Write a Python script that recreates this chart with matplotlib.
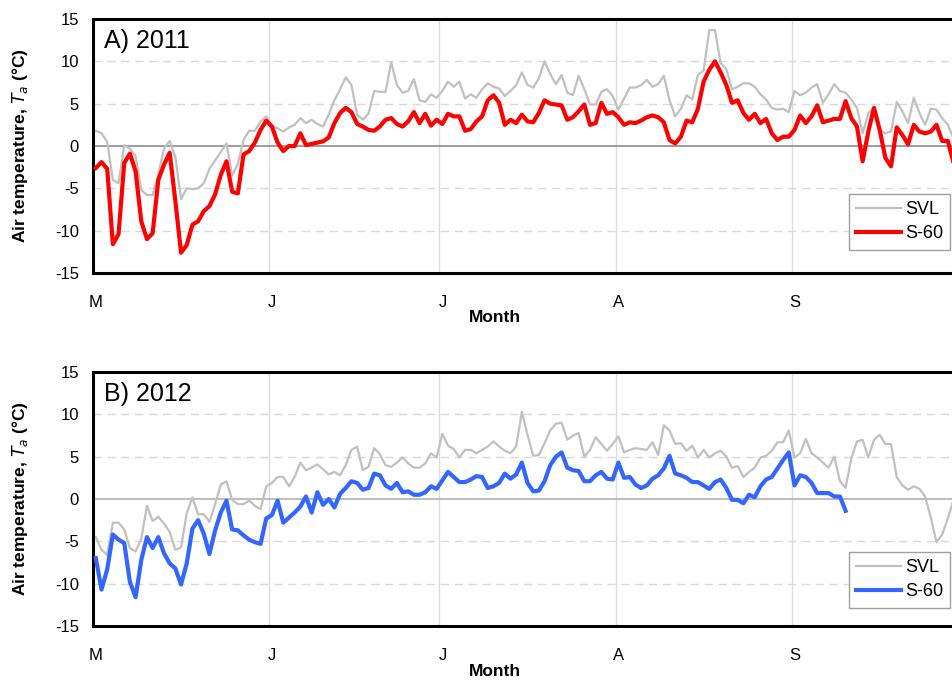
import numpy as np
import matplotlib
matplotlib.use('Agg')
import matplotlib.pyplot as plt
import matplotlib.transforms as mtrans

plt.rcParams['font.family'] = ['Liberation Sans', 'DejaVu Sans']
plt.rcParams['axes.unicode_minus'] = False

# daily mean air temperature (deg C), first value = 1 May
svl_2011 = [1.8, 1.5, 0.5, -4.0, -4.4, 0.1, -0.3, -1.2, -5.2, -5.8,
            -5.8, -3.3, -0.3, 0.6, -1.3, -6.3, -5.0, -5.1, -5.0, -4.4,
            -2.7, -1.7, -0.7, 0.3, -3.5, -2.1, 0.7, 1.8, 1.8, 2.9,
            3.5, 2.4, 2.1, 1.7, 2.2, 2.5, 3.3,
            2.7, 3.1, 2.6, 2.3, 3.7, 5.4, 6.7, 8.1, 7.2, 3.7,
            3.1, 3.8, 6.5, 6.4, 6.4, 9.9, 7.2, 6.3, 6.5, 7.9,
            5.4, 5.2, 6.1, 5.7, 6.5, 7.6, 7.0, 7.6, 5.6, 6.1,
            5.7, 6.7, 7.4, 7.0, 6.8, 5.9, 6.5, 7.2, 8.7,
            7.2, 6.9, 8.0, 10.0, 8.5, 7.3, 8.4, 6.3, 6.0, 8.3,
            6.7, 4.9, 4.9, 6.4, 6.7, 5.9, 4.3, 5.6, 6.9, 6.9,
            7.2, 7.8, 7.0, 7.3, 8.3, 5.4, 3.5, 4.4, 6.0, 5.5,
            8.4, 8.9, 13.7, 13.7, 9.8, 9.1, 6.7, 7.0,
            7.4, 7.4, 7.0, 6.1, 5.5, 4.5, 4.3, 4.4, 4.0, 6.5,
            6.0, 6.3, 6.9, 7.3, 5.1, 6.1, 7.3, 6.5, 6.3, 5.5,
            4.5, 1.5, 3.9, 4.5, 1.9, 1.5, 1.7, 5.2, 4.1, 2.7,
            5.7, 3.9, 2.5, 4.4, 4.3, 3.3, 2.5, 0.9]
s60_2011 = [-2.6, -1.9, -2.7, -11.6, -10.4, -2.0, -0.9, -3.0, -8.9, -11.0,
            -10.3, -4.0, -2.2, -0.8, -6.5, -12.6, -11.7, -9.3, -8.9, -7.7,
            -7.1, -5.7, -3.4, -1.8, -5.4, -5.6, -1.0, -0.6, 0.4, 1.9,
            3.0, 2.3, 0.4, -0.6, 0.0, 0.0, 1.5,
            0.1, 0.25, 0.4, 0.55, 1.0, 2.7, 3.9, 4.5, 4.0, 2.6,
            2.3, 1.9, 1.8, 2.3, 3.1, 3.3, 2.6, 2.3, 2.9, 4.0,
            2.7, 3.8, 2.4, 3.1, 2.6, 3.8, 3.5, 3.5, 1.8, 2.0,
            2.9, 3.5, 5.4, 6.0, 5.1, 2.5, 3.1, 2.7,
            3.7, 2.9, 2.8, 3.9, 5.4, 5.0, 4.9, 4.8, 3.1, 3.4,
            4.1, 4.9, 2.5, 2.7, 5.1, 3.8, 4.0, 3.4, 2.5, 2.8,
            2.7, 3.0, 3.4, 3.6, 3.4, 2.8, 0.7, 0.3, 1.1, 3.0,
            2.8, 4.4, 7.6, 9.0, 10.0, 8.7, 7.2, 5.1, 5.4,
            3.9, 3.1, 3.8, 2.7, 3.2, 1.5, 0.7, 1.1, 1.1, 1.9,
            3.6, 2.7, 3.5, 4.8, 2.8, 3.0, 3.2, 3.2, 5.3, 3.3,
            2.3, -1.8, 1.7, 4.5, 1.9, -1.4, -2.4, 2.2, 1.3, 0.2,
            2.5, 1.7, 1.5, 1.7, 2.5, 0.6, 0.6, -2.0]

svl_2012 = [-4.5, -6.0, -6.6, -2.8, -2.8, -3.6, -5.8, -6.2, -4.7, -0.8,
            -2.6, -2.1, -2.9, -3.9, -6.0, -5.7, -1.7, 0.2, -1.8, -1.8,
            -2.7, -0.6, 1.7, 2.1, -0.1, -0.6, -0.6, -0.2, -0.8, -1.2,
            1.5, 1.9, 2.6, 2.6, 1.5, 2.6, 4.3,
            3.4, 3.7, 4.1, 3.5, 2.9, 3.2, 2.8, 4.0, 5.8, 6.2,
            3.4, 3.8, 6.0, 5.3, 4.0, 3.8, 4.3, 4.9, 4.2, 3.7,
            3.7, 4.2, 5.4, 4.9, 7.7, 6.3, 5.9, 4.9, 5.8, 5.8,
            5.4, 5.8, 6.2, 6.8, 6.2, 5.7, 5.4, 6.2, 10.3,
            7.6, 5.1, 5.2, 6.6, 8.1, 8.9, 9.0, 7.0, 7.5, 7.8,
            5.0, 5.8, 7.3, 6.5, 5.7, 6.5, 7.4, 5.5, 5.8, 6.0,
            5.9, 5.8, 6.7, 5.2, 8.7, 8.1, 6.5, 6.6, 5.7, 6.3,
            4.9, 5.8, 4.9, 5.4, 5.7, 5.0, 3.7, 3.9,
            2.6, 3.2, 3.7, 4.9, 5.1, 5.7, 6.7, 6.7, 8.1, 4.9,
            5.4, 7.1, 5.4, 4.9, 4.3, 3.7, 5.0, 2.1, 1.3, 4.8,
            6.8, 7.0, 4.9, 7.0, 7.6, 6.5, 6.5, 2.6, 1.6, 1.1,
            1.5, 1.2, 0.3, -2.2, -5.1, -4.2, -2.3, -0.1]
s60_2012 = [-7.0, -10.7, -8.3, -4.2, -4.8, -5.2, -9.8, -11.6, -7.2, -4.5,
            -5.8, -4.5, -6.4, -7.6, -8.2, -10.1, -7.6, -3.5, -2.5, -4.1,
            -6.5, -3.7, -1.6, -0.2, -3.6, -3.7, -4.3, -4.8, -5.1, -5.3,
            -2.3, -1.9, -0.2, -2.8, -2.2, -1.6, -0.9,
            0.3, -1.6, 0.8, -0.7, 0.0, -1.0, 0.6, 1.3, 2.1, 1.9,
            1.1, 1.3, 3.0, 2.8, 1.6, 1.2, 1.9, 0.8, 0.9, 0.5,
            0.5, 0.8, 1.5, 1.2, 2.2, 3.2, 2.6, 2.0, 2.0, 2.3,
            2.7, 2.6, 1.3, 1.5, 1.9, 3.0, 2.4, 2.9, 4.3,
            1.9, 0.9, 1.0, 2.1, 4.0, 5.0, 5.5, 3.7, 3.4, 3.3,
            2.1, 2.1, 2.8, 3.2, 2.4, 2.3, 4.3, 2.5, 2.6, 1.7,
            1.3, 1.6, 2.4, 2.8, 3.6, 5.1, 3.0, 2.8, 2.5, 2.0,
            2.0, 1.6, 1.2, 2.0, 2.3, 1.3, -0.1, -0.1,
            -0.5, 0.5, 0.2, 1.5, 2.3, 2.6, 3.6, 4.6, 5.5, 1.6,
            2.8, 2.6, 1.9, 0.7, 0.7, 0.7, 0.3, 0.3, -1.4]

month_starts = [0, 31, 61, 92, 123]
month_labels = ['M', 'J', 'J', 'A', 'S']
yticks = [-15, -10, -5, 0, 5, 10, 15]

W, H = 952, 682
fig = plt.figure(figsize=(W / 100, H / 100), dpi=100)

px_per_day = 5.68
ax_left, ax_width = 93, 870


def panel(top, label, svl, s60, color, zero_color, leg_top):
    ax = fig.add_axes([ax_left / W, 1 - (top + 254) / H, ax_width / W, 254 / H])
    ax.set_xlim(0, ax_width / px_per_day)
    ax.set_ylim(-15, 15)

    # grid
    for v in [-10, -5, 5, 10]:
        ax.axhline(v, color='#d9d9d9', lw=1, ls=(0, (6, 4)), zorder=0)
    ax.axhline(0, color=zero_color, lw=1.2, zorder=1)
    for m in month_starts[1:]:
        ax.axvline(m, color='#dcdcdc', lw=1, zorder=0)

    x1 = np.arange(len(svl)) + 0.5
    x2 = np.arange(len(s60)) + 0.5
    ax.plot(x1, svl, color='#c0c0c0', lw=1.6, label='SVL', zorder=2)
    ax.plot(x2, s60, color=color, lw=3, label='S-60', zorder=3)

    ax.set_xticks(month_starts)
    ax.set_xticklabels(month_labels)
    ax.set_yticks(yticks)
    ax.set_yticklabels([str(t) for t in yticks])
    ax.tick_params(axis='both', length=0, labelsize=12)
    ax.tick_params(axis='x', pad=16)
    ax.tick_params(axis='y', pad=10)
    off = mtrans.ScaledTranslation(3 / 100, 0, fig.dpi_scale_trans)
    for t in ax.get_xticklabels():
        t.set_transform(t.get_transform() + off)

    for s in ['top', 'left', 'bottom']:
        ax.spines[s].set_linewidth(2.2)
        ax.spines[s].set_color('black')
    ax.spines['right'].set_visible(False)

    ax.set_ylabel('Air temperature, $\\mathit{T_a}$ (°C)', fontsize=12.5,
                  fontweight='bold', va='center')
    ax.yaxis.set_label_coords(-73 / ax_width, 0.5)
    ax.set_xlabel('Month', fontsize=12.5, fontweight='bold', va='center')
    ax.xaxis.set_label_coords((495 - ax_left) / ax_width, -45 / 254)

    ax.text(11 / ax_width, (254 - 29) / 254, label, transform=ax.transAxes,
            fontsize=18, va='baseline', ha='left')

    leg = ax.legend(loc='upper left', bbox_to_anchor=(849 / W, 1 - leg_top / H),
                    bbox_transform=fig.transFigure, borderaxespad=0,
                    fontsize=13, handlelength=2.5, handletextpad=0.2,
                    labelspacing=0.4, borderpad=0.4, fancybox=False,
                    framealpha=1, edgecolor='#a0a0a0')
    leg.get_frame().set_linewidth(1)
    return ax


panel(19, 'A) 2011', svl_2011, s60_2011, '#ff0000', '#8c8c8c', 194)
panel(372, 'B) 2012', svl_2012, s60_2012, '#3366ff', '#b0b0b0', 552)

plt.savefig('out.png', dpi=100)
